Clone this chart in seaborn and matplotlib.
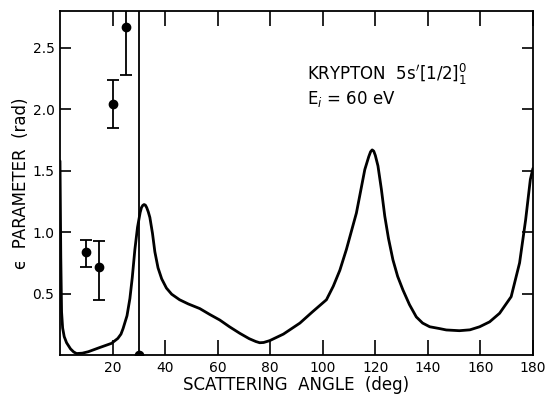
import numpy as np
import pandas as pd
import matplotlib
matplotlib.use("Agg")
import matplotlib.pyplot as plt
import seaborn as sns

# Theory curve
curve_angle = [0, 0.3, 0.6, 1.0, 1.6, 2.5, 4, 5.2, 6.3, 8.5, 10.8, 15, 19.6, 22, 23.2, 24,
               25.5, 26.6, 27.5, 28.5, 29.5, 30.5, 31, 31.5, 32, 32.5, 33, 33.6, 34.2, 35.2,
               36.1, 37.3, 38.7, 40.5, 42.5, 45.5, 48.8, 53.2, 57, 60.8, 64.5, 68.4, 72, 74.5,
               76, 77.5, 79.8, 85, 91.3, 96, 101.4, 104, 106.5, 109, 112.8, 116, 117.5, 118.2,
               118.8, 119.4, 120, 121, 122.3, 123.6, 125, 126.7, 128.5, 130.5, 133, 135.6, 138,
               140.7, 144.5, 147, 152, 156, 159.7, 163.5, 167.3, 171.7, 174.9, 177.2, 179, 180]
curve_eps = [1.58, 0.8, 0.35, 0.22, 0.15, 0.1, 0.05, 0.025, 0.012, 0.015, 0.027, 0.06, 0.095,
             0.135, 0.17, 0.215, 0.32, 0.46, 0.63, 0.86, 1.04, 1.16, 1.2, 1.218, 1.225, 1.22,
             1.2, 1.165, 1.12, 0.99, 0.84, 0.71, 0.62, 0.545, 0.495, 0.45, 0.416, 0.378, 0.33,
             0.285, 0.23, 0.177, 0.133, 0.11, 0.1, 0.102, 0.117, 0.17, 0.26, 0.35, 0.45, 0.56,
             0.69, 0.86, 1.156, 1.51, 1.615, 1.655, 1.67, 1.66, 1.625, 1.54, 1.35, 1.13, 0.95,
             0.775, 0.64, 0.53, 0.41, 0.31, 0.26, 0.23, 0.215, 0.204, 0.198, 0.205, 0.23, 0.27,
             0.34, 0.475, 0.75, 1.10, 1.43, 1.52]

# Measured points
exp_angle = [10, 15, 20, 25]
exp_eps = [0.835, 0.715, 2.045, 2.67]
exp_lo = [0.715, 0.446, 1.85, 2.28]
exp_hi = [0.94, 0.93, 2.24, 2.90]

vline_angle = 30
xticks = [20, 40, 60, 80, 100, 120, 140, 160, 180]
yticks = [0.5, 1.0, 1.5, 2.0, 2.5]

sns.set_theme(style="ticks")
plt.rcParams['font.family'] = ['DejaVu Sans']
plt.rcParams['lines.solid_joinstyle'] = 'round'
plt.rcParams['lines.solid_capstyle'] = 'round'

fig = plt.figure(figsize=(5.53, 3.96), dpi=100)
ax = fig.add_axes([0.1085, 0.1035, 0.8553, 0.8685])

df = pd.DataFrame({"angle": curve_angle, "eps": curve_eps})
sns.lineplot(data=df, x="angle", y="eps", sort=False, color="black", linewidth=2.0, ax=ax)

ax.axvline(vline_angle, color="black", linewidth=1.3)
ax.plot([vline_angle], [0], "o", color="black", markersize=6, clip_on=True, zorder=5)

yerr = [np.array(exp_eps) - np.array(exp_lo), np.array(exp_hi) - np.array(exp_eps)]
ax.errorbar(exp_angle, exp_eps, yerr=yerr, fmt="o", color="black", markersize=6,
            capsize=4, elinewidth=1.3, capthick=1.3)

ax.set_xlim(0, 180)
ax.set_ylim(0, 2.8)
ax.set_xticks(xticks)
ax.set_yticks(yticks)
ax.set_xticklabels([str(t) for t in xticks])
ax.set_yticklabels(["0.5", "1.0", "1.5", "2.0", "2.5"])
ax.tick_params(axis="x", direction="in", length=11, width=1.2, top=True, pad=4,
               labelsize=10, colors="black")
ax.tick_params(axis="y", direction="in", length=8, width=1.2, right=True, pad=4,
               labelsize=10, colors="black")
for s in ax.spines.values():
    s.set_color("black")
    s.set_linewidth(1.3)
    s.set_visible(True)

ax.set_xlabel("SCATTERING  ANGLE  (deg)", fontsize=12, labelpad=1, color="black")
ax.set_ylabel("ϵ  PARAMETER  (rad)", fontsize=12, labelpad=2, color="black")

ax.text(0.522, 0.80, r"KRYPTON  5s$'[1/2]_{1}^{0}$", transform=ax.transAxes,
        fontsize=12, color="black", va="baseline")
ax.text(0.522, 0.73, r"E$_{i}$ = 60 eV", transform=ax.transAxes,
        fontsize=12, color="black", va="baseline")

fig.savefig("out.png", dpi=100)
